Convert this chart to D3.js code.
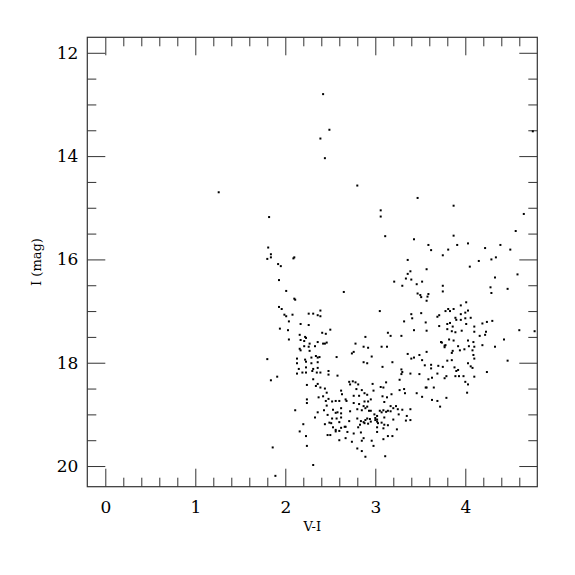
<!DOCTYPE html>
<html>
<head>
<meta charset="utf-8">
<script src="https://cdn.jsdelivr.net/npm/d3@7"></script>
<style>
  html, body { margin: 0; padding: 0; background: #fff; }
  svg { display: block; }
  .tick text { font-family: "DejaVu Serif", serif; }
</style>
</head>
<body>
<svg id="chart" width="575" height="575"></svg>
<script>
// V-I colour index of each star
const colorIndex = [
  2.42,2.49,2.39,2.44,2.80,1.26,3.47,3.87,3.06,3.06,3.11,4.65,4.56,4.75,1.82,
  1.81,1.84,1.80,1.84,2.10,2.09,1.92,1.95,1.93,2.01,2.10,2.11,2.65,3.21,1.93,
  1.96,1.99,2.01,2.08,2.04,2.26,2.31,2.36,2.39,2.39,3.05,2.17,2.26,1.94,2.03,
  2.50,2.41,2.45,3.14,3.17,2.89,2.16,2.22,2.23,2.04,2.17,2.21,2.27,2.36,2.42,
  2.44,2.46,2.78,2.16,2.17,2.21,2.26,2.33,2.27,2.87,2.92,3.07,3.13,2.57,1.80,
  2.13,2.22,2.23,2.29,2.29,2.34,2.36,2.38,2.36,2.13,2.36,2.15,2.23,2.31,
  1.91,1.84,2.13,2.19,2.23,2.30,2.35,2.39,2.48,2.48,2.58,2.31,2.24,2.36,2.34,
  2.39,2.44,2.46,2.62,2.63,2.71,2.42,2.37,2.48,2.24,2.24,2.45,2.52,2.56,2.60,
  2.67,2.68,2.46,2.62,2.53,2.43,2.11,2.36,2.56,2.58,2.62,2.47,2.33,2.52,2.57,
  2.62,2.49,2.51,2.60,2.71,2.44,2.20,2.53,2.62,2.66,2.67,2.56,2.56,2.60,2.69,
  2.16,2.47,2.50,2.23,2.60,2.67,2.24,1.86,2.31,1.89,
  2.76,2.74,2.96,2.87,2.91,3.08,3.19,3.36,3.40,3.43,3.49,3.57,3.52,3.55,3.62,
  3.62,3.74,3.77,3.70,3.29,3.30,3.29,3.39,3.49,3.59,3.63,3.69,3.27,3.12,3.06,
  3.09,3.18,3.27,3.32,3.33,3.46,3.52,3.56,3.57,3.65,3.63,3.69,3.72,2.75,2.78,
  2.72,2.81,2.97,2.79,2.85,2.88,2.91,2.98,2.76,2.82,3.08,3.13,2.88,2.92,2.76,
  2.82,2.95,2.87,2.89,2.91,2.85,2.93,2.95,2.80,2.72,3.10,3.17,3.20,3.23,3.25,
  3.30,3.39,3.05,3.07,3.09,3.12,3.14,3.17,2.99,3.02,3.00,3.10,3.20,3.35,3.39,
  3.34,3.26,2.80,2.84,2.87,2.89,2.91,2.94,2.95,3.00,3.02,3.02,2.83,2.88,2.92,
  3.07,3.10,3.09,3.14,3.03,3.02,3.24,2.81,2.76,2.84,3.02,3.14,3.19,3.09,2.87,
  2.85,2.96,2.74,2.98,2.80,2.89,3.11,2.85,
  3.43,3.87,3.59,3.62,3.91,4.03,3.75,3.81,4.22,4.39,4.50,3.36,4.15,4.29,4.34,
  4.05,3.57,3.39,3.36,3.34,3.40,3.30,3.46,3.52,3.75,3.75,4.33,4.58,4.28,4.29,
  4.47,3.47,3.50,3.51,3.59,3.58,3.57,3.40,3.41,3.51,3.32,3.43,3.56,3.57,3.29,
  3.69,3.71,3.71,3.95,
  4.01,3.95,3.78,3.81,3.83,3.87,3.95,4.00,4.03,3.89,3.90,4.00,4.06,3.80,3.83,
  3.86,4.01,4.19,4.24,4.30,4.10,3.80,3.85,3.89,3.96,4.10,4.22,4.23,4.16,4.60,
  4.77,3.82,3.87,3.73,4.03,4.43,3.78,3.77,3.92,4.09,4.10,4.04,4.19,4.33,3.99,
  3.94,3.86,3.85,4.08,4.09,4.10,3.80,3.85,4.03,4.06,4.08,4.47,4.24,3.88,3.90,
  3.92,3.75,3.89,3.93,3.98,3.79,3.77,4.10,4.00,4.03,3.79,4.02
];
// I magnitude of each star
const magnitude = [
  12.80,13.49,13.66,14.04,14.57,14.70,14.81,14.96,15.05,15.17,15.55,15.12,15.45,13.52,15.18,
  15.77,15.90,15.99,15.96,15.96,15.98,16.09,16.13,16.40,16.61,16.76,16.78,16.63,16.43,16.92,
  16.96,17.07,17.10,17.07,17.20,17.05,17.05,17.08,17.10,16.99,17.00,17.25,17.27,17.34,17.37,
  17.36,17.42,17.44,17.42,17.48,17.50,17.46,17.50,17.52,17.55,17.56,17.58,17.63,17.60,17.63,
  17.63,17.61,17.63,17.73,17.76,17.68,17.69,17.68,17.77,17.69,17.71,17.69,17.69,17.89,17.93,
  17.92,17.94,17.98,17.90,18.01,17.87,17.90,17.89,17.99,18.01,18.10,18.12,18.09,18.12,
  18.27,18.34,18.21,18.19,18.19,18.16,18.19,18.19,18.16,18.23,18.25,18.32,18.43,18.41,18.45,
  18.48,18.50,18.58,18.54,18.61,18.37,18.65,18.67,18.70,18.71,18.78,18.74,18.75,18.74,18.74,
  18.71,18.74,18.83,18.88,18.91,18.92,18.92,18.96,18.97,18.96,18.98,19.01,19.06,19.08,19.08,
  19.06,19.16,19.17,19.15,19.13,19.19,19.19,19.25,19.26,19.24,19.24,19.30,19.33,19.32,19.34,
  19.33,19.40,19.40,19.42,19.50,19.46,19.61,19.64,19.98,20.19,
  17.79,17.82,17.88,17.99,18.01,18.08,17.99,17.83,17.92,17.90,17.85,17.79,17.95,18.05,18.04,
  18.11,17.61,17.67,18.06,18.13,18.18,18.22,18.21,18.22,18.32,18.29,18.21,18.33,18.38,18.47,
  18.48,18.61,18.53,18.51,18.59,18.59,18.66,18.48,18.48,18.48,18.72,18.74,18.85,18.36,18.38,
  18.42,18.42,18.41,18.51,18.53,18.59,18.62,18.54,18.64,18.64,18.65,18.67,18.75,18.75,18.78,
  18.80,18.71,18.84,18.88,18.85,18.92,18.93,18.93,18.90,18.94,18.76,18.84,18.88,18.84,18.90,
  18.91,18.90,18.93,18.96,18.92,18.95,18.93,18.94,19.00,19.03,19.07,19.06,19.10,19.03,19.11,
  19.12,19.00,19.08,19.13,19.15,19.11,19.08,19.09,19.14,19.11,19.14,19.10,19.20,19.17,19.18,
  19.16,19.20,19.27,19.21,19.17,19.25,19.29,19.25,19.37,19.35,19.34,19.42,19.42,19.48,19.46,
  19.51,19.51,19.53,19.61,19.66,19.82,19.81,19.71,
  15.61,15.54,15.72,15.82,15.72,15.69,15.92,15.81,15.78,15.72,15.81,16.01,16.03,16.00,15.96,
  16.14,16.19,16.23,16.28,16.37,16.39,16.51,16.48,16.43,16.51,16.62,16.35,16.29,16.54,16.65,
  16.57,16.66,16.69,16.73,16.67,16.72,16.80,17.06,17.14,17.04,17.20,17.37,17.22,17.38,17.48,
  17.11,17.08,17.29,17.17,
  16.83,16.89,17.00,16.96,17.00,16.96,17.06,17.03,16.99,17.13,17.17,17.14,17.13,17.25,17.23,
  17.30,17.25,17.24,17.21,17.19,17.30,17.35,17.39,17.41,17.38,17.40,17.46,17.40,17.48,17.37,
  17.39,17.55,17.57,17.60,17.57,17.55,17.66,17.70,17.68,17.60,17.69,17.68,17.66,17.69,17.74,
  17.76,17.77,17.81,17.76,17.85,17.92,17.96,17.95,18.01,18.07,18.10,17.96,18.18,18.09,18.16,
  18.14,18.08,18.26,18.26,18.26,18.26,18.30,18.27,18.37,18.42,18.68,18.58
];
const xTickLabels = [0, 1, 2, 3, 4];
const xMinorTicks = [0.2,0.4,0.6,0.8,1.2,1.4,1.6,1.8,2.2,2.4,2.6,2.8,3.2,3.4,3.6,3.8,4.2,4.4,4.6];
const yTickLabels = [12, 14, 16, 18, 20];
const yMinorTicks = [12.5,13,13.5,14.5,15,15.5,16.5,17,17.5,18.5,19,19.5];
const xTitle = "V-I";
const yTitle = "I (mag)";

const svg = d3.select("#chart");
const L = 87.3, R = 537.3, T = 37.3, B = 486.7;
const x = d3.scaleLinear().domain([-0.2, 4.8]).range([L, R]);
const y = d3.scaleLinear().domain([11.7, 20.4]).range([T, B]);
const axisColor = "#333";
const majorLen = 18, minorLen = 9;

function styleAxis(g) {
  g.select(".domain").remove();
  g.selectAll(".tick line").attr("stroke", axisColor).attr("stroke-width", 1);
  g.selectAll(".tick text").attr("fill", "#000").attr("font-size", 17);
}

// bottom
svg.append("g").attr("transform", `translate(0,${B})`)
  .call(d3.axisBottom(x).tickValues(xTickLabels).tickSizeInner(-majorLen).tickSizeOuter(0).tickPadding(14).tickFormat(d3.format("d")))
  .call(styleAxis);
svg.append("g").attr("transform", `translate(0,${B})`)
  .call(d3.axisBottom(x).tickValues(xMinorTicks).tickSizeInner(-minorLen).tickSizeOuter(0).tickFormat(""))
  .call(styleAxis);
// top
svg.append("g").attr("transform", `translate(0,${T})`)
  .call(d3.axisTop(x).tickValues(xTickLabels).tickSizeInner(-majorLen).tickSizeOuter(0).tickFormat(""))
  .call(styleAxis);
svg.append("g").attr("transform", `translate(0,${T})`)
  .call(d3.axisTop(x).tickValues(xMinorTicks).tickSizeInner(-minorLen).tickSizeOuter(0).tickFormat(""))
  .call(styleAxis);
// left
svg.append("g").attr("transform", `translate(${L},0)`)
  .call(d3.axisLeft(y).tickValues(yTickLabels).tickSizeInner(-majorLen).tickSizeOuter(0).tickPadding(9).tickFormat(d3.format("d")))
  .call(styleAxis);
svg.append("g").attr("transform", `translate(${L},0)`)
  .call(d3.axisLeft(y).tickValues(yMinorTicks).tickSizeInner(-minorLen).tickSizeOuter(0).tickFormat(""))
  .call(styleAxis);
// right
svg.append("g").attr("transform", `translate(${R},0)`)
  .call(d3.axisRight(y).tickValues(yTickLabels).tickSizeInner(-majorLen).tickSizeOuter(0).tickFormat(""))
  .call(styleAxis);
svg.append("g").attr("transform", `translate(${R},0)`)
  .call(d3.axisRight(y).tickValues(yMinorTicks).tickSizeInner(-minorLen).tickSizeOuter(0).tickFormat(""))
  .call(styleAxis);

// frame
svg.append("rect")
  .attr("x", L).attr("y", T).attr("width", R - L).attr("height", B - T)
  .attr("fill", "none").attr("stroke", axisColor).attr("stroke-width", 1.2);

// points
const pts = colorIndex.map((v, i) => ({ v, m: magnitude[i] }));
svg.append("g").selectAll("rect.pt").data(pts).join("rect")
  .attr("class", "pt")
  .attr("x", d => x(d.v) - 1)
  .attr("y", d => y(d.m) - 1)
  .attr("width", 2).attr("height", 2)
  .attr("fill", "#000");

// titles
svg.append("text")
  .attr("x", (L + R) / 2).attr("y", 531)
  .attr("text-anchor", "middle")
  .attr("font-family", "DejaVu Serif, serif").attr("font-size", 13)
  .text(xTitle);
svg.append("text")
  .attr("transform", `translate(41,${(T + B) / 2}) rotate(-90)`)
  .attr("text-anchor", "middle")
  .attr("font-family", "DejaVu Serif, serif").attr("font-size", 13)
  .text(yTitle);
</script>
</body>
</html>
